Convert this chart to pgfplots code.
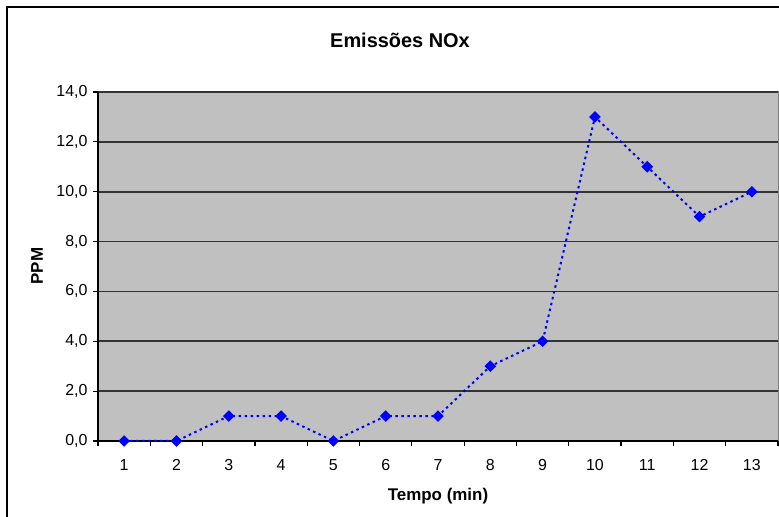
\documentclass[border=0pt]{standalone}
\usepackage{fontspec}
\setmainfont{Liberation Sans}
\usepackage{pgfplots}
\pgfplotsset{compat=1.18}
\definecolor{plotbg}{HTML}{C0C0C0}
\definecolor{gridc}{HTML}{333333}
\begin{document}
\begin{tikzpicture}[x=1bp,y=1bp]
\useasboundingbox (0,0) rectangle (779,517);
\draw[black, line width=2bp] (7,0) -- (7,510) -- (779,510);
\begin{axis}[
  at={(98bp,76bp)}, anchor=south west,
  scale only axis, width=680bp, height=349bp,
  xmin=0.5, xmax=13.5, ymin=0, ymax=14,
  enlargelimits=false,
  clip=false,
  xtick={1,...,13},
  minor xtick={0.5,1.5,...,13.5},
  ytick={0,2,...,14},
  xtick pos=bottom, ytick pos=left,
  tick align=outside,
  major x tick style={draw=none},
  major tick length=5bp, minor tick length=5bp,
  tick style={black, line width=1.2bp},
  ymajorgrids,
  major grid style={gridc, line width=1.8bp},
  axis line style={draw=none},
  axis background/.style={fill=plotbg, draw=gray, line width=1bp},
  /pgf/number format/assume math mode=true,
  tick label style={font=\fontsize{16}{19}\selectfont},
  xticklabel style={yshift=-10bp},
  yticklabel style={xshift=-2bp, /pgf/number format/.cd, fixed, fixed zerofill, precision=1, use comma},
]
\draw[black, line width=2bp] (rel axis cs:0,1) -- (rel axis cs:0,0) -- (rel axis cs:1,0);
\addplot[blue, line width=2bp, dash pattern=on 2.5bp off 3.5bp,
  mark=square*, mark size=3.1bp, mark options={solid, rotate=45, fill=blue, draw=blue}]
  coordinates {(1,0) (2,0) (3,1) (4,1) (5,0) (6,1) (7,1) (8,3) (9,4) (10,13) (11,11) (12,9) (13,10)};
\end{axis}
\node[font=\fontsize{20}{24}\selectfont\bfseries] at (400,477) {Emissões NOx};
\node[font=\fontsize{17}{20}\selectfont\bfseries] at (438,21) {Tempo (min)};
\node[rotate=90, font=\fontsize{17}{20}\selectfont\bfseries] at (37,251) {PPM};
\end{tikzpicture}
\end{document}
